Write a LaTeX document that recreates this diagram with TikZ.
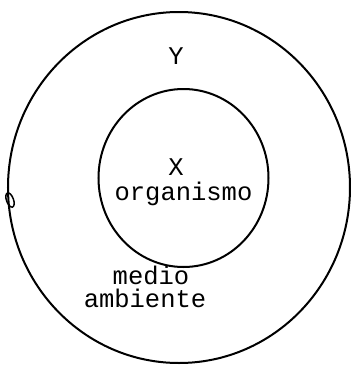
\documentclass[tikz,border=0pt]{standalone}
\usepackage{fontspec}
\setmonofont{Liberation Mono}
\usetikzlibrary{positioning}
\tikzset{
  ring/.style={draw, line width=2pt},
  lbl/.style={font=\ttfamily\fontsize{25.5}{25.5}\selectfont, anchor=base, inner sep=0pt},
}
\begin{document}
\begin{tikzpicture}[x=1pt, y=-1pt]
  \useasboundingbox (0,0) rectangle (351,368);
  % the two rings
  \coordinate (env) at (179,187.5);
  \coordinate (org) at (183.5,178);
  \draw[ring] (env) ellipse [x radius=171, y radius=175.5];
  \draw[ring] (org) ellipse [x radius=85, y radius=89];
  % little loop on the outer line
  \draw[line width=1.5pt, rotate around={20:(10,200)}] (10,200) ellipse [x radius=3.5, y radius=7.5];
  % labels
  \node[lbl] (y) at (176,64) {Y};
  \node[lbl] (x) at (176,175) {X};
  \node[lbl] (organismo) at (183.5,200) {organismo};
  \node[lbl, text depth=0pt] (medio) at (151,284) {medio};
  \node[lbl, text height=18pt] (ambiente) at (145,307) {ambiente};
\end{tikzpicture}
\end{document}
